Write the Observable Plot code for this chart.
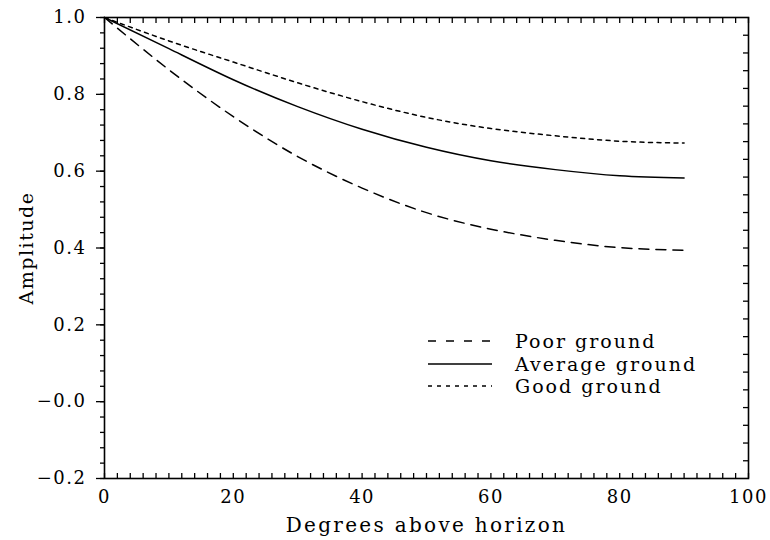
<!DOCTYPE html>
<html>
<head>
<meta charset="utf-8">
<script src="https://cdn.jsdelivr.net/npm/d3@7"></script>
<script src="https://cdn.jsdelivr.net/npm/@observablehq/plot@0.6"></script>
<style>
  html, body { margin: 0; padding: 0; background: #fff; }
  #wrap { position: relative; width: 770px; height: 540px; font-family: "DejaVu Serif", serif; }
  #legend { position: absolute; left: 428px; top: 330px; }
  .row { display: flex; align-items: center; height: 22.5px; }
  .row span { font-size: 19px; letter-spacing: 2px; margin-left: 23px; color: #000; line-height: 22px; }
</style>
</head>
<body>
<div id="wrap"></div>
<script>
// ---- data ----
const degrees = [0, 10, 20, 30, 40, 50, 60, 70, 80, 90];
const poorGround    = [1.000, 0.864, 0.742, 0.638, 0.556, 0.492, 0.449, 0.420, 0.401, 0.394];
const averageGround = [1.000, 0.919, 0.838, 0.768, 0.709, 0.662, 0.627, 0.604, 0.588, 0.582];
const goodGround    = [1.000, 0.939, 0.884, 0.830, 0.781, 0.740, 0.711, 0.692, 0.678, 0.673];

const seriesNames = ["Poor ground", "Average ground", "Good ground"];
const seriesDash  = ["10,7", null, "4,4.5"];
const legendDash  = ["8,10", null, "4,5"];

const xTickValues = [0, 20, 40, 60, 80, 100];
const yTickValues = [-0.2, 0.0, 0.2, 0.4, 0.6, 0.8, 1.0];
const yTickLabels = ["\u22120.2", "\u22120.0", "0.2", "0.4", "0.6", "0.8", "1.0"];

const xTitle = "Degrees above horizon";
const yTitle = "Amplitude";

// ---- build ----
const W = 770, H = 540;
const mL = 104, mR = 22, mT = 17, mB = 62;
const pw = W - mL - mR, ph = H - mT - mB;

const table = (vals) => degrees.map((d, i) => ({deg: d, amp: vals[i]}));
const seriesData = [poorGround, averageGround, goodGround].map(table);

const minorX = d3.range(0, 101, 2);
const minorY = d3.range(0, 31).map(k => -0.2 + k * 0.04);
const rightY = d3.range(1, 26).map(k => 1.0 - k * 1.2 / 26);

const labelMap = new Map(yTickValues.map((v, i) => [v.toFixed(1), yTickLabels[i]]));

const chart = Plot.plot({
  width: W, height: H,
  marginLeft: mL, marginRight: mR, marginTop: mT, marginBottom: mB,
  style: {fontFamily: "DejaVu Serif, serif", fontSize: "18px", color: "#000", background: "#fff", letterSpacing: "1.5px"},
  x: {domain: [0, 100]},
  y: {domain: [-0.2, 1.0]},
  marks: [
    // minor ticks
    Plot.tickX(minorX, {x: d => d, insetBottom: ph - 6, stroke: "#000", strokeWidth: 1.3}),
    Plot.tickX(minorX, {x: d => d, insetTop: ph - 5, stroke: "#000", strokeWidth: 1.3}),
    Plot.tickY(minorY, {y: d => d, insetLeft: -4, insetRight: pw, stroke: "#000", strokeWidth: 1.3}),
    Plot.tickY(rightY, {y: d => d, insetLeft: pw - 5, stroke: "#000", strokeWidth: 1.3}),
    // major axes
    Plot.axisY({ticks: yTickValues, tickSize: 8, tickPadding: 10, strokeWidth: 1.3,
      tickFormat: d => labelMap.get(d.toFixed(1)), label: null, fontSize: 18}),
    Plot.axisX({ticks: xTickValues, tickSize: 0, tickPadding: 12, label: null, fontSize: 18,
      tickFormat: d => String(d)}),
    // curves
    ...seriesData.map((data, i) => Plot.line(data, {
      x: "deg", y: "amp", curve: "natural",
      stroke: "#000", strokeWidth: 1.5,
      strokeDasharray: seriesDash[i]
    })),
    Plot.frame({stroke: "#000", strokeWidth: 1.6}),
    // axis titles
    Plot.text([yTitle], {text: d => d, frameAnchor: "left", dx: -78, rotate: -90,
      textAnchor: "middle", lineAnchor: "middle", fontSize: 19, fill: "#000"}),
    Plot.text([xTitle], {text: d => d, frameAnchor: "bottom", dy: 47,
      textAnchor: "middle", lineAnchor: "middle", fontSize: 20, fill: "#000",
      style: "letter-spacing: 2.3px"})
  ]
});

const wrap = document.getElementById("wrap");
wrap.appendChild(chart);

// x title letter spacing (axis title text element)
chart.querySelectorAll("text").forEach(t => {
  if (t.textContent === xTitle) t.setAttribute("letter-spacing", "2.3");
});

// legend
const legend = document.createElement("div");
legend.id = "legend";
seriesNames.forEach((name, i) => {
  const row = document.createElement("div");
  row.className = "row";
  const ns = "http://www.w3.org/2000/svg";
  const svg = document.createElementNS(ns, "svg");
  svg.setAttribute("width", 64); svg.setAttribute("height", 10);
  const ln = document.createElementNS(ns, "line");
  ln.setAttribute("x1", 0); ln.setAttribute("x2", 64);
  ln.setAttribute("y1", 5); ln.setAttribute("y2", 5);
  ln.setAttribute("stroke", "#000"); ln.setAttribute("stroke-width", 1.5);
  if (legendDash[i]) ln.setAttribute("stroke-dasharray", legendDash[i]);
  svg.appendChild(ln);
  const sp = document.createElement("span");
  sp.textContent = name;
  row.appendChild(svg); row.appendChild(sp);
  legend.appendChild(row);
});
wrap.appendChild(legend);
</script>
</body>
</html>
